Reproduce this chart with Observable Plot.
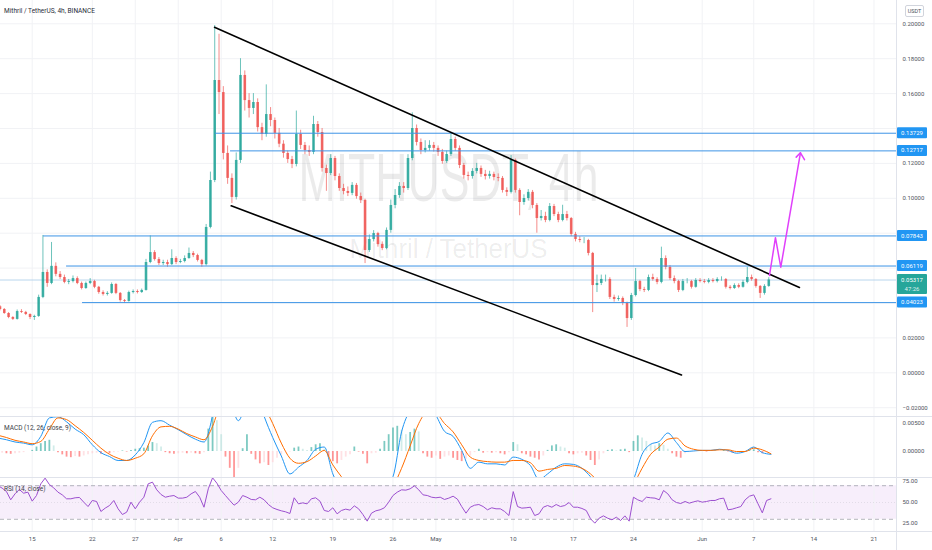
<!DOCTYPE html>
<html><head><meta charset="utf-8">
<script src="https://cdn.jsdelivr.net/npm/d3@7"></script>
<script src="https://cdn.jsdelivr.net/npm/@observablehq/plot@0.6"></script>
<style>
body{margin:0;background:#fff;font-family:Roboto,"Liberation Sans",sans-serif;}
#wrap{position:relative;width:932px;height:550px;overflow:hidden;background:#fff;}
.panel{position:absolute;left:0;}
.sep{position:absolute;left:0;width:932px;height:1px;background:#e0e3eb;z-index:5;}
.vsep{position:absolute;left:896px;top:0;width:1px;height:550px;background:#e0e3eb;z-index:5;}
.lbl{position:absolute;left:4px;font-size:6.5px;color:#3b3e48;white-space:nowrap;z-index:6;}
#usdt{position:absolute;left:905px;top:5px;width:17px;height:10px;border:1px solid #d1d4dc;border-radius:2px;font-size:5.5px;line-height:10px;text-align:center;color:#50535e;z-index:6;background:#fff;}
</style></head><body>
<div id="wrap">
  <div id="main" class="panel" style="top:0"></div>
  <div id="macd" class="panel" style="top:416px"></div>
  <div id="rsi" class="panel" style="top:477px"></div>
  <div class="sep" style="top:416px"></div>
  <div class="sep" style="top:477px"></div>
  <div class="sep" style="top:531px"></div>
  <div class="vsep"></div>
  <div class="lbl" style="top:7px;font-size:6.5px;color:#2a2e39">Mithril / TetherUS, 4h, BINANCE</div>
  <div class="lbl" style="top:424px">MACD (12, 26, close, 9)</div>
  <div class="lbl" style="top:485px">RSI (14, close)</div>
  <div id="usdt">USDT</div>
</div>
<script>
// ---------- DATA ----------
const candleOpenTime = "2021-03-11T00:00:00Z"; // 12h candles; closes[0] is the close before the first candle
const closes = [
0.0378,0.0363,0.0340,0.0317,0.0306,0.0351,0.0346,0.0334,0.0317,0.0323,
0.0432,0.0575,0.0512,0.0610,0.0564,0.0546,0.0518,0.0523,0.0540,0.0512,
0.0483,0.0512,0.0523,0.0490,0.0460,0.0449,0.0455,0.0506,0.0455,0.0414,
0.0409,0.0460,0.0466,0.0460,0.0472,0.0632,0.0689,0.0649,0.0626,0.0632,
0.0620,0.0655,0.0632,0.0638,0.0655,0.0684,0.0672,0.0644,0.0620,0.0833,
0.1102,0.1675,0.1606,0.1257,0.1114,0.1005,0.1217,0.1704,0.1560,0.1515,
0.1549,0.1405,0.1366,0.1480,0.1446,0.1372,0.1310,0.1257,0.1222,0.1194,
0.1366,0.1303,0.1274,0.1263,0.1423,0.1377,0.1171,0.1142,0.1228,0.1125,
0.1056,0.1039,0.1028,0.1074,0.1010,0.0988,0.0701,0.0764,0.0798,0.0735,
0.0712,0.0816,0.0959,0.1016,0.1068,0.1056,0.1228,0.1400,0.1320,0.1274,
0.1286,0.1303,0.1286,0.1263,0.1211,0.1251,0.1337,0.1286,0.1188,0.1131,
0.1125,0.1154,0.1171,0.1137,0.1125,0.1137,0.1119,0.1114,0.1045,0.1034,
0.1217,0.1045,0.0976,0.0999,0.1034,0.0959,0.0884,0.0896,0.0873,0.0953,
0.0907,0.0873,0.0907,0.0884,0.0793,0.0764,0.0758,0.0758,0.0684,0.0500,
0.0512,0.0535,0.0535,0.0432,0.0420,0.0426,0.0397,0.0311,0.0443,0.0523,
0.0477,0.0472,0.0546,0.0535,0.0518,0.0655,0.0604,0.0540,0.0523,0.0472,
0.0523,0.0523,0.0490,0.0529,0.0523,0.0518,0.0529,0.0523,0.0535,0.0535,
0.0490,0.0483,0.0500,0.0490,0.0518,0.0546,0.0535,0.0495,0.0455,0.0495,
0.0532];
const highs = [
0.0385,0.0368,0.0345,0.0322,0.0360,0.0362,0.0352,0.0338,0.0330,0.0445,
0.0787,0.0590,0.0747,0.0630,0.0580,0.0560,0.0535,0.0555,0.0550,0.0520,
0.0520,0.0540,0.0530,0.0495,0.0470,0.0465,0.0515,0.0512,0.0460,0.0420,
0.0468,0.0475,0.0475,0.0480,0.0650,0.0785,0.0700,0.0660,0.0645,0.0645,
0.0705,0.0665,0.0650,0.0670,0.0715,0.0695,0.0680,0.0650,0.0850,0.1150,
0.1990,0.1940,0.1640,0.1300,0.1140,0.1260,0.1800,0.1730,0.1600,0.1600,
0.1570,0.1430,0.1650,0.1520,0.1460,0.1400,0.1330,0.1270,0.1240,0.1500,
0.1390,0.1320,0.1300,0.1470,0.1440,0.1400,0.1190,0.1250,0.1240,0.1140,
0.1080,0.1065,0.1090,0.1085,0.1030,0.0995,0.0790,0.0815,0.0805,0.0750,
0.0830,0.0990,0.1050,0.1090,0.1090,0.1250,0.1490,0.1420,0.1340,0.1330,
0.1330,0.1320,0.1300,0.1280,0.1270,0.1370,0.1350,0.1300,0.1200,0.1150,
0.1170,0.1200,0.1185,0.1160,0.1155,0.1150,0.1140,0.1125,0.1060,0.1245,
0.1225,0.1055,0.1020,0.1050,0.1045,0.0970,0.0930,0.0920,0.0970,0.0965,
0.0920,0.0960,0.0925,0.0890,0.0805,0.0780,0.0775,0.0765,0.0690,0.0560,
0.0560,0.0560,0.0545,0.0445,0.0440,0.0435,0.0405,0.0455,0.0598,0.0530,
0.0490,0.0560,0.0565,0.0545,0.0720,0.0670,0.0615,0.0555,0.0530,0.0535,
0.0540,0.0530,0.0540,0.0540,0.0535,0.0540,0.0540,0.0545,0.0550,0.0540,
0.0500,0.0510,0.0510,0.0530,0.0604,0.0560,0.0540,0.0500,0.0505,0.0545];
const lows = [
0.0355,0.0335,0.0310,0.0300,0.0302,0.0340,0.0328,0.0305,0.0300,0.0318,
0.0425,0.0490,0.0505,0.0550,0.0535,0.0510,0.0505,0.0515,0.0505,0.0475,
0.0478,0.0505,0.0482,0.0450,0.0440,0.0440,0.0450,0.0448,0.0405,0.0397,
0.0405,0.0452,0.0452,0.0455,0.0468,0.0625,0.0640,0.0615,0.0615,0.0605,
0.0615,0.0620,0.0625,0.0630,0.0650,0.0660,0.0635,0.0605,0.0612,0.0825,
0.1090,0.1480,0.1220,0.1080,0.0970,0.0990,0.1200,0.1500,0.1460,0.1480,
0.1380,0.1330,0.1350,0.1410,0.1340,0.1290,0.1230,0.1200,0.1170,0.1180,
0.1280,0.1250,0.1240,0.1250,0.1350,0.1150,0.1040,0.1130,0.1100,0.1040,
0.1020,0.1010,0.1015,0.0995,0.0970,0.0626,0.0690,0.0750,0.0720,0.0700,
0.0705,0.0800,0.0940,0.1000,0.1030,0.1045,0.1215,0.1300,0.1250,0.1260,
0.1270,0.1265,0.1240,0.1195,0.1200,0.1240,0.1270,0.1170,0.1110,0.1100,
0.1110,0.1140,0.1120,0.1105,0.1110,0.1100,0.1095,0.1030,0.1010,0.1025,
0.1030,0.0900,0.0960,0.0985,0.0940,0.0800,0.0870,0.0860,0.0865,0.0895,
0.0860,0.0865,0.0870,0.0780,0.0750,0.0745,0.0740,0.0670,0.0345,0.0460,
0.0500,0.0520,0.0420,0.0405,0.0410,0.0385,0.0260,0.0300,0.0435,0.0465,
0.0460,0.0465,0.0525,0.0505,0.0510,0.0590,0.0530,0.0510,0.0460,0.0465,
0.0510,0.0480,0.0485,0.0515,0.0510,0.0510,0.0515,0.0515,0.0525,0.0480,
0.0475,0.0478,0.0482,0.0485,0.0510,0.0525,0.0485,0.0426,0.0445,0.0490];

// MACD (daily samples from the same start)
const macdLine = [
0.0024,0.0021,0.0017,0.0015,0.0012,0.0027,0.0060,0.0062,0.0053,0.0040,
0.0030,0.0012,-0.0002,-0.0009,-0.0016,-0.0016,-0.0006,0.0016,0.0052,0.0055,
0.0047,0.0039,0.0030,0.0022,0.0017,0.0065,0.0160,0.0100,0.0055,0.0090,
0.0110,0.0063,0.0025,-0.0008,-0.0040,-0.0028,-0.0016,0.0004,0.0008,-0.0040,
-0.0070,-0.0090,-0.0095,-0.0090,-0.0080,-0.0065,-0.0045,0.0035,0.0075,0.0100,
0.0090,0.0065,0.0036,0.0027,0.0002,-0.0030,-0.0019,-0.0022,-0.0022,-0.0024,
-0.0010,-0.0014,-0.0025,-0.0050,-0.0040,-0.0028,-0.0022,-0.0023,-0.0030,-0.0045,
-0.0065,-0.0080,-0.0085,-0.0075,-0.0050,-0.0005,0.0013,0.0018,0.0033,0.0016,
0.0000,0.0001,0.0002,0.0002,0.0004,0.0002,-0.0003,0.0000,0.0008,-0.0002,
-0.0005];
const signalLine = [
0.0029,0.0025,0.0020,0.0017,0.0014,0.0018,0.0040,0.0060,0.0057,0.0046,
0.0034,0.0020,0.0006,-0.0005,-0.0012,-0.0016,-0.0012,-0.0004,0.0028,0.0044,
0.0045,0.0040,0.0032,0.0026,0.0021,0.0045,0.0090,0.0110,0.0100,0.0098,
0.0100,0.0080,0.0050,0.0015,-0.0012,-0.0021,-0.0018,-0.0008,0.0002,-0.0024,
-0.0045,-0.0065,-0.0080,-0.0085,-0.0082,-0.0075,-0.0062,-0.0030,0.0010,0.0050,
0.0070,0.0068,0.0050,0.0035,0.0012,-0.0010,-0.0016,-0.0018,-0.0019,-0.0019,
-0.0016,-0.0016,-0.0020,-0.0035,-0.0032,-0.0030,-0.0025,-0.0026,-0.0030,-0.0040,
-0.0055,-0.0068,-0.0075,-0.0072,-0.0058,-0.0030,-0.0005,0.0008,0.0022,0.0024,
0.0010,0.0004,0.0002,0.0002,0.0003,0.0003,0.0000,0.0000,0.0006,0.0003,
-0.0004];
// MACD histogram (12h samples)
const macdHist = [
-0.0003,-0.0003,-0.0004,-0.0005,-0.0004,-0.0003,-0.0002,0.0000,0.0002,0.0008,
0.0014,0.0018,0.0020,0.0010,-0.0002,-0.0006,-0.0010,-0.0011,-0.0009,-0.0010,
-0.0008,-0.0006,-0.0004,-0.0003,-0.0005,-0.0003,-0.0004,-0.0002,-0.0001,0.0001,
-0.0001,0.0002,0.0004,0.0005,0.0006,0.0010,0.0016,0.0014,0.0008,-0.0002,
-0.0004,-0.0005,-0.0004,-0.0003,-0.0004,-0.0003,-0.0004,-0.0005,-0.0002,0.0040,
0.0063,0.0055,0.0030,-0.0010,-0.0030,-0.0047,-0.0030,0.0005,0.0030,-0.0005,
-0.0015,-0.0022,-0.0020,-0.0025,-0.0020,-0.0012,-0.0006,-0.0002,-0.0001,0.0006,
0.0008,0.0004,0.0002,0.0007,0.0012,0.0014,0.0004,-0.0010,-0.0018,-0.0022,
-0.0016,-0.0010,-0.0006,0.0008,-0.0001,-0.0005,-0.0022,-0.0004,-0.0003,0.0004,
0.0018,0.0030,0.0042,0.0045,0.0038,0.0030,0.0034,0.0040,0.0035,-0.0004,
-0.0010,-0.0012,-0.0008,-0.0014,-0.0010,-0.0008,-0.0012,-0.0016,-0.0018,-0.0014,
-0.0008,-0.0002,0.0004,-0.0003,-0.0002,-0.0003,-0.0002,-0.0004,-0.0006,-0.0002,
0.0016,0.0012,-0.0004,-0.0006,-0.0010,-0.0012,-0.0015,-0.0008,0.0002,0.0010,
0.0012,0.0008,0.0006,-0.0004,-0.0006,-0.0004,-0.0003,-0.0008,-0.0016,-0.0025,
-0.0015,-0.0004,0.0002,0.0003,0.0001,0.0003,0.0004,-0.0002,0.0018,0.0028,
0.0024,0.0018,0.0012,0.0010,0.0014,0.0011,0.0004,-0.0004,-0.0010,-0.0012,
-0.0004,-0.0002,-0.0001,0.0001,0.0000,-0.0001,0.0001,0.0001,0.0000,0.0002,
-0.0001,-0.0003,-0.0002,-0.0001,0.0000,0.0002,0.0003,-0.0002,-0.0004,-0.0003,-0.0001];
// RSI (12h samples)
const rsiValues = [
70.2,67.1,63.1,53.2,60.3,65.5,61.1,62.3,51.6,58.3,
72.2,79.0,71.4,67.5,62.3,59.1,54.4,54.4,55.6,56.0,
50.4,45.2,52.4,51.2,39.3,43.3,46.4,52.4,42.5,35.7,
38.5,50.4,42.5,50.4,56.3,72.2,74.2,65.1,59.5,56.3,
57.5,58.3,55.2,55.2,56.3,60.3,63.1,56.3,44.4,66.3,
79.4,73.0,64.3,58.3,52.4,46.8,50.4,58.3,56.3,53.6,
53.2,56.3,53.2,47.6,43.7,41.7,40.1,38.9,36.9,55.6,
48.4,49.6,48.4,54.4,55.6,51.6,40.5,39.3,43.7,36.5,
40.5,42.1,40.9,46.0,42.5,35.7,27.8,37.3,40.1,41.3,
43.7,50.4,58.3,62.3,65.1,64.7,66.3,69.8,65.1,59.1,
58.3,56.3,55.6,56.3,53.6,55.2,57.5,54.0,45.2,37.3,
44.4,46.8,47.6,45.2,41.3,43.7,42.5,42.5,39.3,34.5,
63.0,45.2,43.3,43.7,44.4,34.5,36.5,44.4,46.4,44.4,
47.6,45.2,46.4,50.0,44.4,44.4,42.9,40.5,30.6,25.4,
31.3,34.1,31.3,29.4,32.5,28.6,34.1,27.8,56.3,53.2,
51.2,56.3,55.6,55.2,53.2,64.3,60.3,53.2,50.0,48.8,
51.2,49.2,50.8,52.0,50.4,51.2,52.4,52.4,54.4,55.2,
41.3,42.1,43.7,45.2,53.2,57.5,59.1,48.4,37.7,52.4,54.4];

// axes / ticks
const xTickDates = ["2021-03-15","2021-03-22","2021-03-27","2021-04-01","2021-04-06","2021-04-12","2021-04-19","2021-04-26","2021-05-01","2021-05-10","2021-05-17","2021-05-24","2021-06-01","2021-06-07","2021-06-14","2021-06-21"];
const xTickLabels = ["15","22","27","Apr","6","12","19","26","May","10","17","24","Jun","7","14","21"];
const priceGrid = [-0.02,0,0.02,0.04,0.06,0.08,0.10,0.12,0.14,0.16,0.18,0.20];
const priceTickLabels = [-0.02,0,0.02,0.10,0.12,0.16,0.18,0.20]; // others sit under the level tags
const macdTicks = [0, 0.005];
const rsiTicks = [25, 50, 75];
const rsiBand = [30, 70];
const viewStart = "2021-03-11T07:26:00Z", viewEnd = "2021-06-23T14:53:00Z";

// drawings
const levelValues = [0.13729, 0.12717, 0.07843, 0.06119, 0.04023];
const levelStarts = ["2021-04-05T08:10Z","2021-04-07T02:10Z","2021-03-16T07:40Z","2021-03-19T00:00Z","2021-03-20T20:40Z"];
const lastPrice = 0.05317;
const countdown = "47:26";
const upperTrendDates = ["2021-04-05T05:20Z","2021-06-12T07:40Z"];
const upperTrendPrices = [0.1980, 0.0489];
const lowerTrendDates = ["2021-04-07T04:00Z","2021-05-29T14:10Z"];
const lowerTrendPrices = [0.0957, -0.0012];
const arrowDates = ["2021-06-08T20:00Z","2021-06-09T12:40Z","2021-06-10T03:35Z","2021-06-12T10:30Z"];
const arrowPrices = [0.0558, 0.0774, 0.0605, 0.1261];
const arrowHeadDates = ["2021-06-11T22:35Z","2021-06-12T10:30Z","2021-06-12T21:50Z"];
const arrowHeadPrices = [0.1236, 0.1261, 0.1221];
const watermark = ["MITHUSDT, 4h"];
const watermarkSub = ["Mithril / TetherUS"];

// ---------- BUILD ----------
const H = 3600 * 1000;
const t0 = Date.parse(candleOpenTime);
const UP = "#26a69a", DOWN = "#ef5350";
const candles = highs.map((h, i) => ({
  t: new Date(t0 + i * 12 * H + 6 * H), o: closes[i], c: closes[i + 1], h, l: lows[i]
}));
candles.forEach(d => d.col = d.c >= d.o ? UP : DOWN);
const macdData = macdLine.map((v, i) => ({t: new Date(t0 + i * 24 * H), macd: v, signal: signalLine[i]}));
const histData = macdHist.map((v, i) => {
  const p = i > 0 ? macdHist[i - 1] : v;
  const col = v >= 0 ? (v >= p ? "#26a69a" : "#b2dfdb") : (v < p ? "#ff5252" : "#ffcdd2");
  return {t: new Date(t0 + i * 12 * H), v, z: 0, col};
});
const rsiData = rsiValues.map((v, i) => ({t: new Date(t0 + i * 12 * H), v}));
const xDomain = [new Date(viewStart), new Date(viewEnd)];
const xTicks = xTickDates.map(d => new Date(d + "T00:00:00Z"));
const tickLab = new Map(xTicks.map((d, i) => [+d, xTickLabels[i]]));
const toPts = (ds, ps) => ds.map((d, i) => ({t: new Date(d), p: ps[i]}));
const levels = levelValues.map((v, i) => ({p: v, t1: new Date(levelStarts[i]), t2: xDomain[1]}));
const GRID = "#f1f2f5";
const FONT = "Roboto, 'Liberation Sans', sans-serif";
const baseStyle = {fontFamily: FONT, fontSize: "6px", color: "#50535e", background: "transparent", overflow: "visible"};

const mainPlot = Plot.plot({
  width: 932, height: 416, marginLeft: 0, marginRight: 36, marginTop: 0, marginBottom: 0,
  style: baseStyle,
  x: {type: "utc", domain: xDomain, axis: null},
  y: {domain: [-0.02504, 0.21335], axis: "right", ticks: priceTickLabels, tickFormat: d3.format(".5f"), tickSize: 0, tickPadding: 6, label: null},
  marks: [
    Plot.ruleX(xTicks, {stroke: GRID}),
    Plot.ruleY(priceGrid, {stroke: GRID}),
    Plot.text(watermark, {frameAnchor: "top", dy: 200, lineAnchor: "bottom", fontSize: 68, fill: "#000", fillOpacity: 0.08, fontFamily: "'Liberation Sans', sans-serif"}),
    Plot.text(watermarkSub, {frameAnchor: "top", dy: 257, lineAnchor: "bottom", fontSize: 28, fill: "#000", fillOpacity: 0.08, fontFamily: "'Liberation Sans', sans-serif"}),
    Plot.ruleY([lastPrice], {stroke: "#a8cbe8", strokeWidth: 0.8}),
    Plot.ruleX(candles, {x: "t", y1: "l", y2: "h", stroke: "col", strokeWidth: 0.8, strokeOpacity: 0.85}),
    Plot.ruleX(candles, {x: "t", y1: "o", y2: "c", stroke: "col", strokeWidth: 2.6, strokeOpacity: 0.85}),
    Plot.ruleY(levels, {y: "p", x1: "t1", x2: "t2", stroke: "#3d94e6", strokeWidth: 1}),
    Plot.line(toPts(upperTrendDates, upperTrendPrices), {x: "t", y: "p", stroke: "#000", strokeWidth: 1.6}),
    Plot.line(toPts(lowerTrendDates, lowerTrendPrices), {x: "t", y: "p", stroke: "#000", strokeWidth: 1.6}),
    Plot.line(toPts(arrowDates, arrowPrices), {x: "t", y: "p", stroke: "#e040fb", strokeWidth: 1.5}),
    Plot.line(toPts(arrowHeadDates, arrowHeadPrices), {x: "t", y: "p", stroke: "#e040fb", strokeWidth: 1.5})
  ]
});
document.getElementById("main").appendChild(mainPlot);
// squeeze the watermark like the reference
d3.select(mainPlot).selectAll("text").each(function() {
  if (this.textContent === watermark[0]) d3.select(this).attr("textLength", 300).attr("lengthAdjust", "spacingAndGlyphs");
  if (this.textContent === watermarkSub[0]) d3.select(this).attr("textLength", 198).attr("lengthAdjust", "spacingAndGlyphs");
});
// price tags on the right axis
const ys = mainPlot.scale("y");
const g = d3.select(mainPlot).append("g").attr("font-family", FONT).attr("font-size", 6);
const fmt5 = d3.format(".5f");
levelValues.forEach(v => {
  const y = ys.apply(v);
  g.append("rect").attr("x", 897).attr("y", y - 5.5).attr("width", 30).attr("height", 11).attr("rx", 1).attr("fill", "#2196f3");
  g.append("text").attr("x", 912).attr("y", y).attr("dy", "0.35em").attr("text-anchor", "middle").attr("fill", "#fff").text(fmt5(v));
});
{
  const y = ys.apply(lastPrice);
  g.append("rect").attr("x", 897).attr("y", y - 5.5).attr("width", 30).attr("height", 20).attr("rx", 1).attr("fill", "#26a69a");
  g.append("text").attr("x", 912).attr("y", y).attr("dy", "0.35em").attr("text-anchor", "middle").attr("fill", "#fff").text(fmt5(lastPrice));
  g.append("text").attr("x", 912).attr("y", y + 9).attr("dy", "0.35em").attr("text-anchor", "middle").attr("fill", "#fff").attr("fill-opacity", 0.85).text(countdown);
}

const macdPlot = Plot.plot({
  width: 932, height: 61, marginLeft: 0, marginRight: 36, marginTop: 0, marginBottom: 0,
  style: baseStyle,
  x: {type: "utc", domain: xDomain, axis: null},
  y: {domain: [-0.00464, 0.00625], axis: "right", ticks: macdTicks, tickFormat: d3.format(".5f"), tickSize: 0, tickPadding: 6, label: null},
  marks: [
    Plot.ruleX(xTicks, {stroke: GRID}),
    Plot.ruleX(histData, {x: "t", y1: "z", y2: "v", stroke: "col", strokeWidth: 1.8, strokeOpacity: 0.6, clip: true}),
    Plot.line(macdData, {x: "t", y: "macd", stroke: "#2196f3", strokeWidth: 1, curve: "monotone-x", clip: true}),
    Plot.line(macdData, {x: "t", y: "signal", stroke: "#ff6d00", strokeWidth: 1, curve: "monotone-x", clip: true})
  ]
});
document.getElementById("macd").appendChild(macdPlot);

const rsiPlot = Plot.plot({
  width: 932, height: 73, marginLeft: 0, marginRight: 36, marginTop: 0, marginBottom: 19,
  style: baseStyle,
  x: {type: "utc", domain: xDomain, ticks: xTicks, tickFormat: d => tickLab.get(+d) ?? "", tickSize: 0, tickPadding: 5, label: null},
  y: {domain: [15.48, 79.76], axis: "right", ticks: rsiTicks, tickFormat: d3.format(".2f"), tickSize: 0, tickPadding: 6, label: null},
  marks: [
    Plot.areaY(xDomain.map(t => ({t, lo: rsiBand[0], hi: rsiBand[1]})), {x: "t", y1: "lo", y2: "hi", fill: "#b05ad6", fillOpacity: 0.1}),
    Plot.ruleX(xTicks, {stroke: GRID}),
    Plot.ruleY(rsiBand, {stroke: "#9598a1", strokeWidth: 0.7, strokeDasharray: "4,3"}),
    Plot.ruleY([50], {stroke: "#9598a1", strokeOpacity: 0.35, strokeWidth: 0.6, strokeDasharray: "1,2"}),
    Plot.line(rsiData, {x: "t", y: "v", stroke: "#9c4fcf", strokeWidth: 1, clip: true})
  ]
});
document.getElementById("rsi").appendChild(rsiPlot);
</script>
</body></html>
